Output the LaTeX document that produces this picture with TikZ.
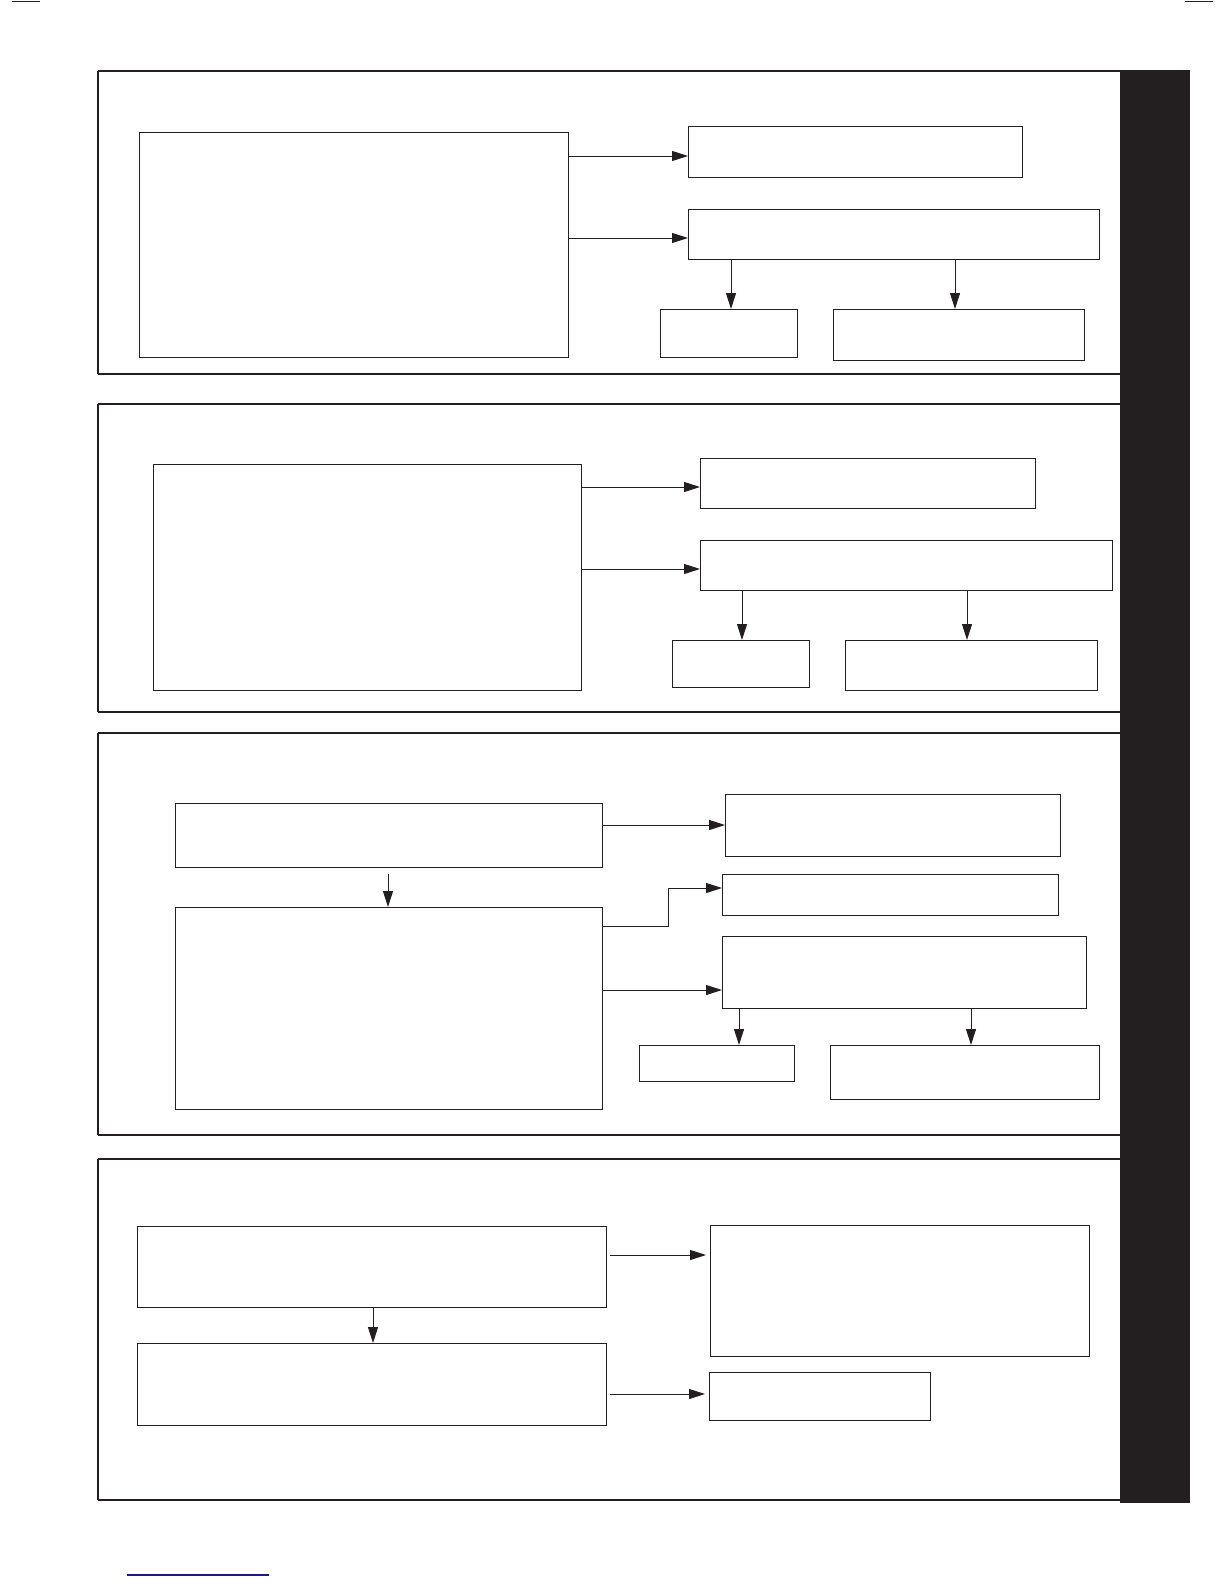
\documentclass[tikz,border=0pt]{standalone}
\usepackage{xcolor}
\usepackage{tikz}
\usetikzlibrary{positioning,calc,arrows.meta}
\definecolor{ink}{HTML}{231F20}
\definecolor{linkblue}{HTML}{1B1B7A}

\begin{document}
\begin{tikzpicture}[x=1pt, y=-1pt,
    blk/.style={draw=ink, line width=1.2pt, anchor=north west, inner sep=0pt},
    arr/.style={draw=ink, line width=1pt, -{Triangle[length=16pt, width=10pt]}},
    rule/.style={draw=ink, line width=2.6pt},
    sideline/.style={draw=ink, line width=1.5pt}]
    \fill[white] (0,0) rectangle (1224,1584);
    \useasboundingbox (0,0) rectangle (1224,1584);

    % page marks
    \draw[ink, line width=1pt] (12,2) -- (40,2);
    \draw[ink, line width=1pt] (1185,2) -- (1213,2);
    \draw[linkblue, line width=1.6pt] (127,1575) -- (269,1575);

    % side tab
    \fill[ink] (1120,70) rectangle (1190,1503);

    % Panel 1
    \begin{scope}
        \draw[rule] (1120,71) -- (98,71);
        \draw[rule] (98,374) -- (1120,374);
        \draw[sideline] (98,71) -- (98,374);
        \node[blk, minimum width=429pt, minimum height=225pt] (p1a) at (139,132) {};
        \node[blk, minimum width=334pt, minimum height=51pt] (p1b) at (688,126) {};
        \node[blk, minimum width=411pt, minimum height=50pt] (p1c) at (688,209) {};
        \node[blk, minimum width=137pt, minimum height=48pt] (p1d) at (660,309) {};
        \node[blk, minimum width=251pt, minimum height=51pt] (p1e) at (833,309) {};
        \draw[arr] (p1a.east |- 0,156) -- (p1b.west |- 0,156);
        \draw[arr] (p1a.east |- 0,238) -- (p1c.west |- 0,238);
        \draw[arr] (p1c.south -| 731,0) -- (p1d.north -| 731,0);
        \draw[arr] (p1c.south -| 955,0) -- (p1e.north -| 955,0);
    \end{scope}

    % Panel 2
    \begin{scope}
        \draw[rule] (1120,404) -- (98,404);
        \draw[rule] (98,712) -- (1120,712);
        \draw[sideline] (98,404) -- (98,712);
        \node[blk, minimum width=428pt, minimum height=226pt] (p2a) at (153,464) {};
        \node[blk, minimum width=335pt, minimum height=50pt] (p2b) at (700,458) {};
        \node[blk, minimum width=412pt, minimum height=50pt] (p2c) at (700,540) {};
        \node[blk, minimum width=137pt, minimum height=47pt] (p2d) at (672,640) {};
        \node[blk, minimum width=252pt, minimum height=50pt] (p2e) at (845,640) {};
        \draw[arr] (p2a.east |- 0,487) -- (p2b.west |- 0,487);
        \draw[arr] (p2a.east |- 0,569) -- (p2c.west |- 0,569);
        \draw[arr] (p2c.south -| 742,0) -- (p2d.north -| 742,0);
        \draw[arr] (p2c.south -| 967,0) -- (p2e.north -| 967,0);
    \end{scope}

    % Panel 3
    \begin{scope}
        \draw[rule] (1120,733) -- (98,733);
        \draw[rule] (98,1135) -- (1120,1135);
        \draw[sideline] (98,733) -- (98,1135);
        \node[blk, minimum width=427pt, minimum height=64pt] (p3a) at (175,803) {};
        \node[blk, minimum width=427pt, minimum height=202pt] (p3b) at (175,907) {};
        \node[blk, minimum width=335pt, minimum height=62pt] (p3c) at (725,794) {};
        \node[blk, minimum width=336pt, minimum height=41pt] (p3d) at (722,874) {};
        \node[blk, minimum width=364pt, minimum height=72pt] (p3e) at (722,936) {};
        \node[blk, minimum width=155pt, minimum height=36pt] (p3f) at (639,1045) {};
        \node[blk, minimum width=269pt, minimum height=54pt] (p3g) at (830,1045) {};
        \draw[arr, shorten <=6pt] (p3a.south -| 388,0) -- (p3b.north -| 388,0);
        \draw[arr] (p3a.east |- 0,825) -- (p3c.west |- 0,825);
        \draw[arr] (p3b.east |- 0,926) -- (668,926) |- (p3d.west |- 0,888);
        \draw[arr] (p3b.east |- 0,990) -- (p3e.west |- 0,990);
        \draw[arr] (p3e.south -| 739,0) -- (p3f.north -| 739,0);
        \draw[arr] (p3e.south -| 971,0) -- (p3g.north -| 971,0);
    \end{scope}

    % Panel 4
    \begin{scope}
        \draw[rule] (1120,1159) -- (98,1159);
        \draw[rule] (98,1500) -- (1120,1500);
        \draw[sideline] (98,1159) -- (98,1500);
        \node[blk, minimum width=469pt, minimum height=81pt] (p4a) at (137,1226) {};
        \node[blk, minimum width=469pt, minimum height=82pt] (p4b) at (137,1343) {};
        \node[blk, minimum width=379pt, minimum height=131pt] (p4c) at (710,1225) {};
        \node[blk, minimum width=221pt, minimum height=48pt] (p4d) at (709,1372) {};
        \draw[arr] (p4a.south -| 373,0) -- (p4b.north -| 373,0);
        \draw[arr, shorten <=3pt, shorten >=4pt] (p4a.east |- 0,1255) -- (p4c.west |- 0,1255);
        \draw[arr, shorten <=3pt, shorten >=4pt] (p4b.east |- 0,1394) -- (p4d.west |- 0,1394);
    \end{scope}
\end{tikzpicture}
\end{document}
